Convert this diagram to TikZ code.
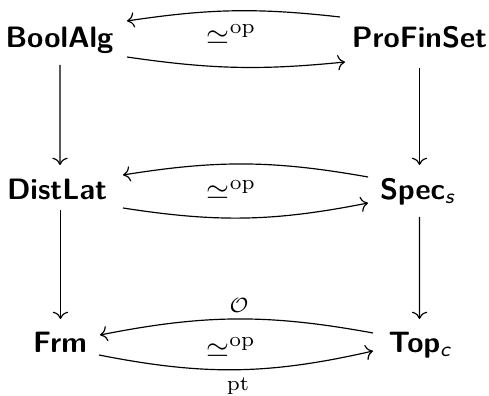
\documentclass[tikz,border=0pt]{standalone}
\usepackage{amsmath}
\usetikzlibrary{arrows.meta}
\tikzset{
  cat/.style={anchor=base, inner sep=0pt, font=\sffamily\bfseries},
  map/.style={-{Computer Modern Rightarrow}, line width=0.4pt},
  lbl/.style={anchor=base, inner sep=0pt}
}
\newcommand{\subsf}[1]{\textsf{\mdseries\itshape #1}}
\begin{document}
\begin{tikzpicture}[x=0.339pt,y=-0.339pt]
\useasboundingbox (0,0) rectangle (489,396);

% categories
\node[cat] (ba) at (59.5,48)    {BoolAlg};
\node[cat] (pf) at (419.5,48)   {ProFinSet};
\node[cat] (dl) at (57,199.5)   {DistLat};
\node[cat] (sp) at (417.5,199.5){Spec$_{\subsf{s}}$};
\node[cat] (fr) at (60,352)     {Frm};
\node[cat] (tp) at (420,352)    {Top$_{\subsf{c}}$};

% dualities
\draw[map] ([shift={(-79.5,-31)}]pf.base) to[bend right=7.5] ([shift={(67.5,-27)}]ba.base);
\draw[map] ([shift={(67.5,9)}]ba.base) to[bend right=7] ([shift={(-74.5,14)}]pf.base);
\node[lbl] (l1) at (231.5,44.5) {$\simeq^{\mathrm{op}}$};

\draw[map] ([shift={(-49.5,-22.5)}]sp.base) to[bend right=9.6] ([shift={(66,-24.5)}]dl.base);
\draw[map] ([shift={(66,8.5)}]dl.base) to[bend right=10] ([shift={(-49.5,3.5)}]sp.base);
\node[lbl] (l2) at (231.5,200) {$\simeq^{\mathrm{op}}$};

\draw[map] ([shift={(-47,-19)}]tp.base) to[bend right=10.8] ([shift={(40,-17)}]fr.base);
\draw[map] ([shift={(39,3)}]fr.base) to[bend right=12] ([shift={(-47,-1)}]tp.base);
\node[lbl] (l3) at (231,357) {$\simeq^{\mathrm{op}}$};
\node[lbl] (lo) at (239,312) {$\scriptstyle\mathcal{O}$};
\node[lbl] (lp) at (238,390) {$\scriptstyle\mathrm{pt}$};

% forgetful maps
\draw[map] ([shift={(0.5,17)}]ba.base) -- ([shift={(3,-34.5)}]dl.base);
\draw[map] ([shift={(3.5,10.5)}]dl.base) -- ([shift={(0.5,-33)}]fr.base);
\draw[map] ([shift={(0,20)}]pf.base) -- ([shift={(2,-34.5)}]sp.base);
\draw[map] ([shift={(2,17.5)}]sp.base) -- ([shift={(-0.5,-33)}]tp.base);
\end{tikzpicture}
\end{document}
